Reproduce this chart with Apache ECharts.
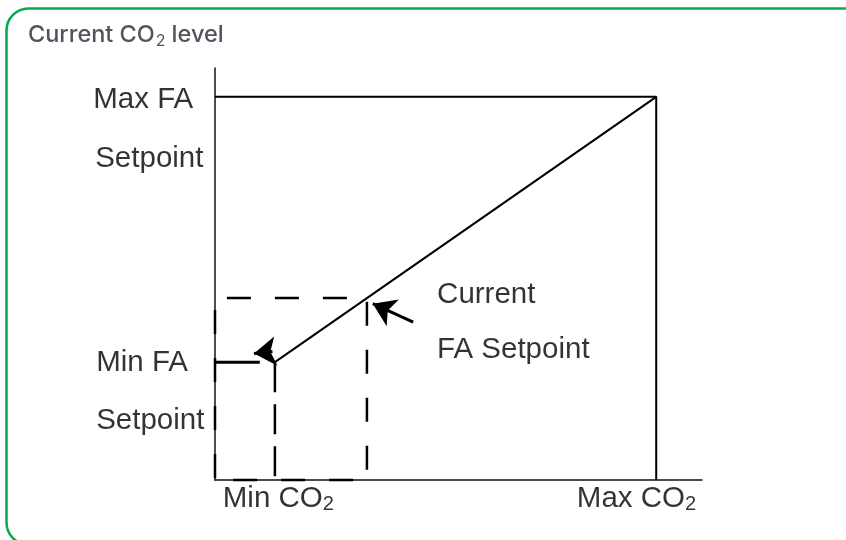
<!DOCTYPE html>
<html>
<head>
<meta charset="utf-8">
<script src="https://cdn.jsdelivr.net/npm/echarts@6/dist/echarts.min.js"></script>
<style>html,body{margin:0;padding:0;background:#fff;}#c{width:846px;height:540px;}</style>
</head>
<body>
<div id="c"></div>
<script>
// ---- data (axis units: 0..100 on both axes) ----
const co2Marks = { min: 12.3, current: 31.2, max: 90.6 };
const faMarks = { min: 28.6, current: 44.2, max: 93.0 };
const minFaTickEnd = 9.2;
const arrowCurrent = [[40.7, 38.3], [32.4, 42.8]];
const arrowMin = [[11.8, 31.2], [8.0, 30.7]];
const labelTexts = ['Max FA', 'Setpoint', 'Min FA', 'Setpoint', 'Current', 'FA Setpoint'];
const labelPos = [[-25, 92.2], [-24.6, 77.9], [-24.4, 28.4], [-24.4, 14.3], [45.6, 44.9], [45.6, 31.6]];
const axisLabelTexts = ['Min CO', 'Max CO'];
const axisLabelPos = [[1.6, -4.6], [74.3, -4.6]];
const titleText = 'Current CO';

const chart = echarts.init(document.getElementById('c'), null, { renderer: 'canvas' });
const black = '#000';
const mainFont = "'Liberation Sans', Arial, sans-serif";

const solidBox = [[0, faMarks.max], [co2Marks.max, faMarks.max], [co2Marks.max, 0]];
const diagonal = [[co2Marks.min, faMarks.min], [co2Marks.max, faMarks.max]];
const dashedRect = [[0, 0], [0, faMarks.current], [co2Marks.current, faMarks.current], [co2Marks.current, 0], [0, 0]];
const minDrop = [[co2Marks.min, faMarks.min], [co2Marks.min, 0]];
const minTick = [[0, faMarks.min], [minFaTickEnd, faMarks.min]];

function lineSeries(data, width, type) {
  return {
    type: 'line', data: data, symbol: 'none', silent: true, animation: false, clip: false,
    lineStyle: { color: black, width: width, type: type || 'solid' }, z: 3
  };
}

const option = {
  animation: false,
  backgroundColor: '#fff',
  graphic: [
    { type: 'rect', shape: { x: 6.5, y: 8.5, width: 860, height: 536, r: 22 },
      style: { fill: 'none', stroke: '#0aa84c', lineWidth: 2.5 }, z: 0 },
    { type: 'text', left: 28, top: 23,
      style: { text: '{t|' + titleText + '}{s|2}{t|level}',
        rich: { t: { fontFamily: "Inter, 'Noto Sans', sans-serif", fontSize: 23.5, fill: '#4f555c', fontWeight: 500 },
                s: { fontFamily: "Inter, 'Noto Sans', sans-serif", fontSize: 16, fill: '#4f555c', padding: [13, 6, 0, 1] } } } }
  ],
  grid: { left: 215, top: 68, width: 487, height: 412, containLabel: false },
  xAxis: {
    type: 'value', min: 0, max: 100,
    axisLine: { show: true, lineStyle: { color: '#111', width: 1.5 } },
    axisTick: { show: false }, axisLabel: { show: false }, splitLine: { show: false }
  },
  yAxis: {
    type: 'value', min: 0, max: 100,
    axisLine: { show: true, lineStyle: { color: '#111', width: 1.5 } },
    axisTick: { show: false }, axisLabel: { show: false }, splitLine: { show: false }
  },
  series: [
    lineSeries(solidBox, 2),
    lineSeries(diagonal, 2),
    Object.assign(lineSeries(dashedRect, 2.5, [24, 24]), { lineStyle: { color: black, width: 2.5, type: [24, 24], dashOffset: -2 } }),
    lineSeries(minDrop, 2.5, [30, 12]),
    lineSeries(minTick, 3),
    {
      type: 'lines', coordinateSystem: 'cartesian2d', silent: true, animation: false,
      symbol: ['none', 'arrow'], symbolSize: 22,
      lineStyle: { color: black, width: 3, opacity: 1 },
      data: [{ coords: arrowCurrent }, { coords: arrowMin }], z: 4
    },
    {
      type: 'scatter', symbolSize: 0, silent: true, animation: false, clip: false,
      data: labelPos.map((p, i) => ({ value: p, name: labelTexts[i] })),
      label: { show: true, position: 'right', distance: 0, formatter: '{b}',
        color: '#000', fontFamily: mainFont, fontSize: 29.5 }
    },
    {
      type: 'scatter', symbolSize: 0, silent: true, animation: false, clip: false,
      data: axisLabelPos.map((p, i) => ({ value: p, name: axisLabelTexts[i] })),
      label: { show: true, position: 'right', distance: 0,
        formatter: (p) => '{n|' + p.name + '}{s|2}',
        rich: { n: { color: '#000', fontFamily: mainFont, fontSize: 29.5 },
                s: { color: '#000', fontFamily: mainFont, fontSize: 20, padding: [12, 0, 0, 0] } } }
    }
  ]
};
chart.setOption(option);
</script>
</body>
</html>
